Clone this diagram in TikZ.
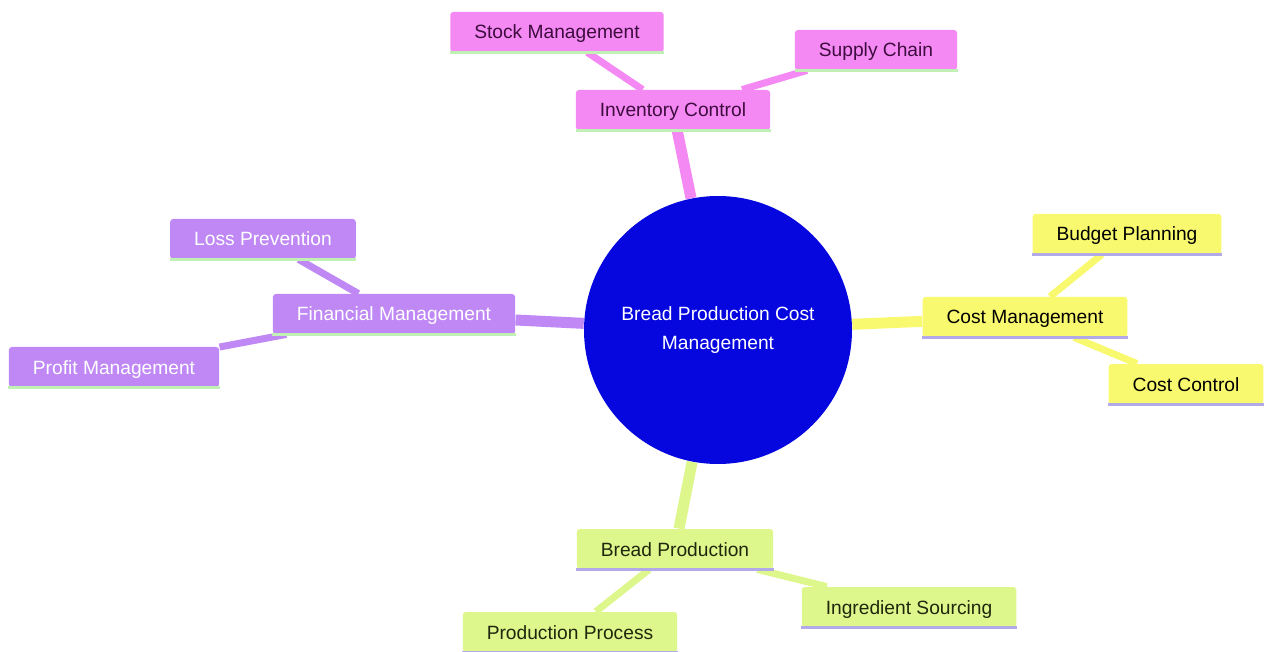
\documentclass[tikz,border=0pt]{standalone}
\usepackage{fontspec}
\setmainfont{Liberation Sans}
\usetikzlibrary{backgrounds}
\definecolor{pinkfill}{RGB}{244,137,244}
\definecolor{pinktext}{RGB}{62,12,62}
\definecolor{yelfill}{RGB}{249,249,112}
\definecolor{purpfill}{RGB}{191,136,245}
\definecolor{grnfill}{RGB}{222,247,140}
\definecolor{grntext}{RGB}{30,40,12}
\definecolor{greenline}{RGB}{192,240,180}
\definecolor{lavline}{RGB}{178,170,232}
\definecolor{hubblue}{RGB}{6,6,222}
\tikzset{
	box/.style={rectangle, rounded corners=1.5pt, minimum height=20pt, inner xsep=12pt, text height=8.5pt, text depth=1.5pt, font=\fontsize{9.6}{11.5}\selectfont},
	pinkbox/.style={box, fill=pinkfill, text=pinktext},
	yelbox/.style={box, fill=yelfill, text=black},
	purpbox/.style={box, fill=purpfill, text=white},
	grnbox/.style={box, fill=grnfill, text=grntext},
	trunk/.style={line width=5.5pt},
	twig/.style={line width=3.5pt}
}

\begin{document}
\begin{tikzpicture}[x=0.5pt, y=-0.5pt]
		%%%%% START %%%%%
		
		\useasboundingbox (0, 0) rectangle (1264, 652);
		
		\node[circle, fill=hubblue, text=white, minimum size=134pt, inner sep=0pt, align=center, font=\fontsize{9.6}{14.5}\selectfont] (hub) at (718, 330) {Bread Production Cost\\Management};
		
		\node[pinkbox] (inv) at (673, 110) {Inventory Control};
		\node[pinkbox] (stock) at (557, 32) {Stock Management};
		\node[pinkbox] (supply) at (876, 50) {Supply Chain};
		
		\node[yelbox] (costm) at (1025, 317) {Cost Management};
		\node[yelbox] (budget) at (1127, 234) {Budget Planning};
		\node[yelbox] (costc) at (1186, 384) {Cost Control};
		
		\node[purpbox] (fin) at (394, 314) {Financial Management};
		\node[purpbox] (loss) at (263, 239) {Loss Prevention};
		\node[purpbox] (profit) at (114, 367) {Profit Management};
		
		\node[grnbox] (bread) at (675, 549) {Bread Production};
		\node[grnbox] (ingr) at (909, 607) {Ingredient Sourcing};
		\node[grnbox] (procp) at (570, 632) {Production Process};
		
		% bottom edges of the boxes
		\foreach \n in {inv, stock, supply, fin, loss, profit}
			\draw[greenline, line width=1.5pt] (\n.south west) -- (\n.south east);
		\foreach \n in {costm, budget, costc, bread, ingr, procp}
			\draw[lavline, line width=1.5pt] (\n.south west) -- (\n.south east);
		
		\begin{scope}[on background layer]
			\fill[white] (0, 0) rectangle (1264, 652);
			
			\draw[trunk, pinkfill] (hub) -- (inv);
			\draw[twig, pinkfill] (inv) -- (stock);
			\draw[twig, pinkfill] (inv) -- (supply);
			
			\draw[trunk, yelfill] (hub) -- (costm);
			\draw[twig, yelfill] (costm) -- (budget);
			\draw[twig, yelfill] (costm) -- (costc);
			
			\draw[trunk, purpfill] (hub) -- (fin);
			\draw[twig, purpfill] (fin) -- (loss);
			\draw[twig, purpfill] (fin) -- (profit);
			
			\draw[trunk, grnfill] (hub) -- (bread);
			\draw[twig, grnfill] (bread) -- (ingr);
			\draw[twig, grnfill] (bread) -- (procp);
		\end{scope}
		
		%%%%% END %%%%%
	\end{tikzpicture}
\end{document}
